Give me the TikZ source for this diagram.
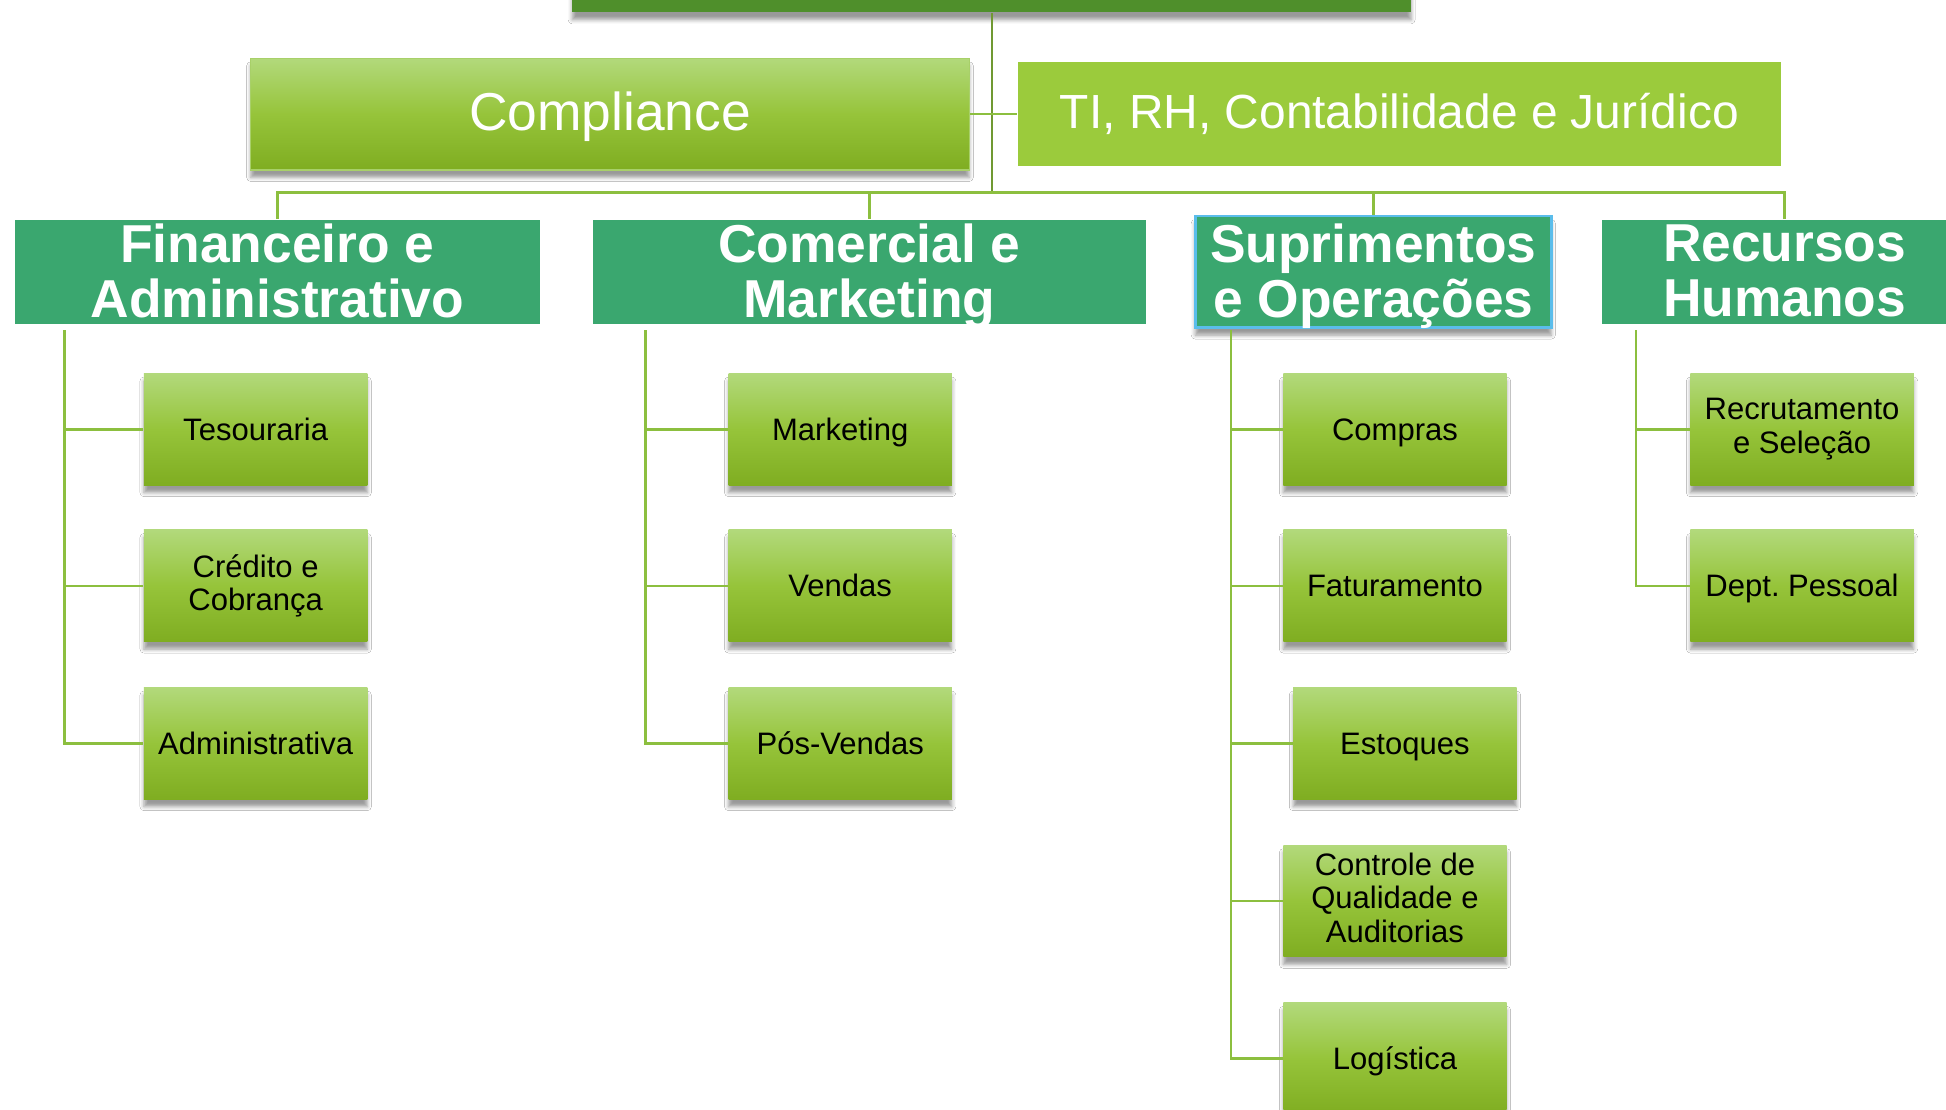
\documentclass[tikz,border=0pt]{standalone}
\usepackage{fontspec}
\setmainfont{Liberation Sans}
\usetikzlibrary{shadows.blur}
\frenchspacing
\newcommand{\topstrut}{\rule{0pt}{0.94em}}
\newcommand{\botstrut}{\rule[-0.22em]{0pt}{0.22em}}
\definecolor{hdr}{HTML}{3AA76F}
\definecolor{gtop}{HTML}{B2D97B}
\definecolor{gmid}{HTML}{96C43A}
\definecolor{gbot}{HTML}{7FAD21}
\definecolor{tig}{HTML}{9BCB3C}
\definecolor{topg}{HTML}{4F8F2B}
\definecolor{conn}{HTML}{8CBF3F}
\definecolor{selblue}{HTML}{5BBDEB}
\tikzset{
  shd/.style={blur shadow={shadow xshift=0pt, shadow yshift=-3pt, shadow blur radius=1.6pt, shadow opacity=40}},
  struts/.style={execute at begin node=\topstrut, execute at end node=\botstrut},
  hdrbox/.style={fill=hdr, inner sep=0pt, minimum height=42pt},
  hdrtxt/.style={text=white, align=center, inner sep=0pt, struts, yshift=-2pt,
    font=\fontsize{21.5}{22}\selectfont\bfseries},
  bigtxt/.style={text=white, inner sep=0pt, struts},
  subbox/.style={minimum width=90pt, minimum height=45pt, inner xsep=2pt, inner ysep=0pt, align=center, struts,
    font=\fontsize{12.5}{13.5}\selectfont, top color=gtop, bottom color=gbot, middle color=gmid, shd},
  link/.style={draw=conn, line width=1pt},
}
\begin{document}
\begin{tikzpicture}[x=0.5pt,y=-0.5pt]
\useasboundingbox (0,0) rectangle (1568,894);
\fill[white] (0,0) rectangle (1568,894);
\begin{scope}
\clip (0,0) rectangle (1568,894);
% top box
\node[fill=topg, minimum width=338pt, minimum height=35pt, inner sep=0pt, shd] (top) at (799,-25) {};
% second row
\node[minimum width=289.5pt, minimum height=45pt, inner sep=0pt, top color=gtop, bottom color=gbot, middle color=gmid, draw=gtop!80!gbot, line width=0.6pt, shd,
  label={[bigtxt, font=\fontsize{21.5}{22}\selectfont, yshift=1pt]center:Compliance}] (comp) at (491.5,92) {};
\node[minimum width=307.5pt, minimum height=42pt, inner sep=0pt, fill=tig,
  label={[bigtxt, font=\fontsize{19.3}{20}\selectfont, yshift=1pt]center:TI, RH, Contabilidade e Jurídico}] (ti) at (1127.5,92) {};
% headers
\node[hdrbox, minimum width=211.5pt, label={[hdrtxt]center:Financeiro e\\Administrativo}] (fin) at (223.5,219) {};
\node[hdrbox, minimum width=222.5pt, label={[hdrtxt]center:Comercial e\\Marketing}] (com) at (700.5,219) {};
\node[hdrbox, minimum width=143.5pt, minimum height=45pt, draw=selblue, line width=1.1pt, shd, label={[hdrtxt]center:Suprimentos\\e Operações}] (sup) at (1106.5,219) {};
\node[hdrbox, minimum width=147pt, label={[hdrtxt]center:Recursos\\Humanos}] (rec) at (1438,219) {};
% children
\node[subbox] (tes) at (206,346) {Tesouraria};
\node[subbox] (cred) at (206,472) {Crédito e\\Cobrança};
\node[subbox] (adm) at (206,599) {Administrativa};
\node[subbox] (mkt) at (677,346) {Marketing};
\node[subbox] (ven) at (677,472) {Vendas};
\node[subbox] (pos) at (677,599) {Pós-Vendas};
\node[subbox] (cmp) at (1124,346) {Compras};
\node[subbox] (fat) at (1124,472) {Faturamento};
\node[subbox] (est) at (1132,599) {Estoques};
\node[subbox] (cq) at (1124,726) {Controle de\\Qualidade e\\Auditorias};
\node[subbox] (log) at (1124,853) {Logística};
\node[subbox] (recr) at (1452,346) {Recrutamento\\e Seleção};
\node[subbox] (dp) at (1452,472) {Dept. Pessoal};
% connectors
\coordinate (bar) at (799,155);
\draw[link, draw=conn!80!black, line width=0.8pt] (top.south) -- (bar);
\draw[link] (comp.east) -- (ti.west);
\draw[link] (fin.north) |- (bar);
\draw[link] (com.north) |- (bar);
\draw[link] (sup.north) |- (bar);
\draw[link] (rec.north) |- (bar);
\coordinate (finl) at (52,266);
\coordinate (coml) at (520,266);
\coordinate (supl) at (992,266);
\coordinate (recl) at (1318,266);
\draw[link] (finl) |- (tes.west);
\draw[link] (finl) |- (cred.west);
\draw[link] (finl) |- (adm.west);
\draw[link] (coml) |- (mkt.west);
\draw[link] (coml) |- (ven.west);
\draw[link] (coml) |- (pos.west);
\draw[link] (supl) |- (cmp.west);
\draw[link] (supl) |- (fat.west);
\draw[link] (supl) |- (est.west);
\draw[link] (supl) |- (cq.west);
\draw[link] (supl) |- (log.west);
\draw[link] (recl) |- (recr.west);
\draw[link] (recl) |- (dp.west);
\end{scope}
\end{tikzpicture}
\end{document}
